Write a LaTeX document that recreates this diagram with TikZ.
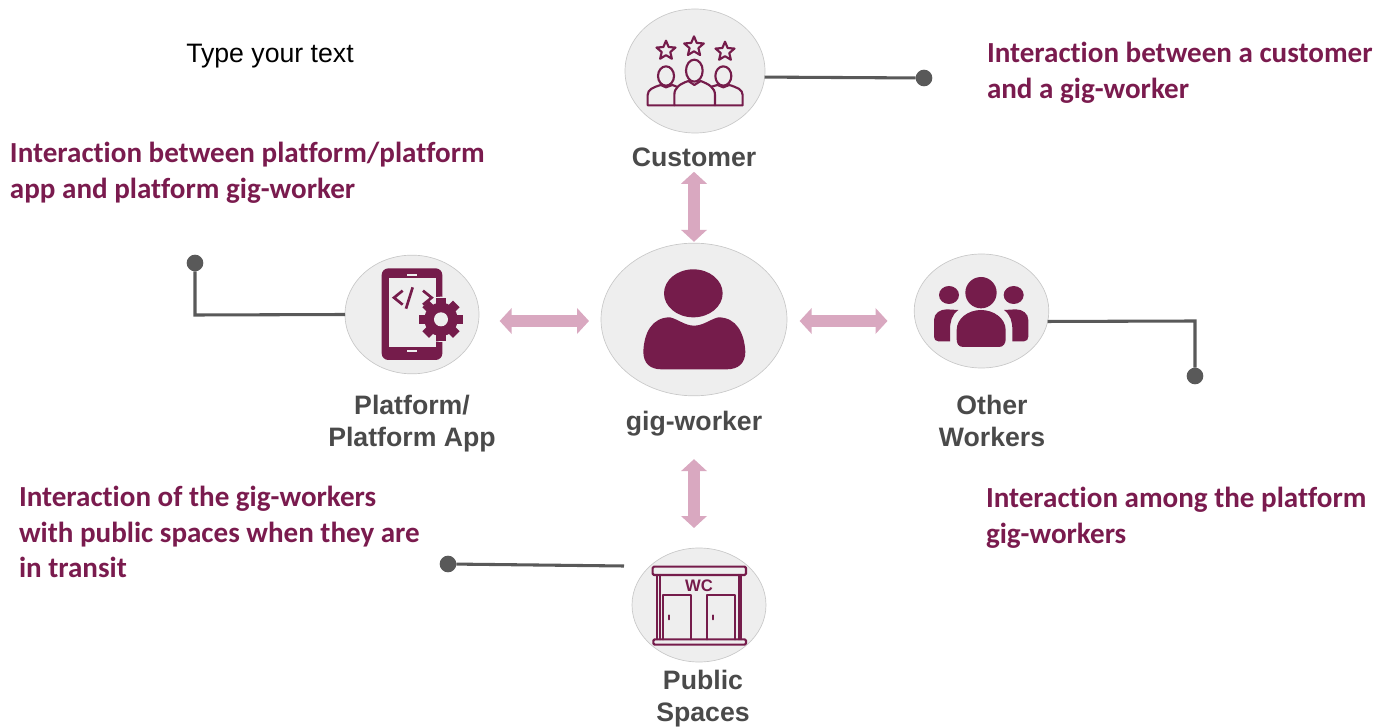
\documentclass[tikz,border=0pt]{standalone}
\usepackage{fontspec}
\setmainfont{Liberation Sans}
\newfontfamily\noteface{Carlito}[Ligatures=NoCommon]
\usetikzlibrary{shapes.geometric,arrows.meta}
\definecolor{plum}{HTML}{751C4B}
\definecolor{notecol}{HTML}{7A1B4E}
\definecolor{disc}{HTML}{EEEEEE}
\definecolor{rimc}{HTML}{C8C8C8}
\definecolor{wire}{HTML}{595959}
\definecolor{pink}{HTML}{D9A8C0}
\definecolor{labelcol}{HTML}{4A4A4A}
\tikzset{
 disk/.style={ellipse,draw=rimc,fill=disc,line width=0.5pt,inner sep=0pt,outer sep=0pt},
 cap label/.style={font=\fontsize{20}{24}\selectfont\bfseries,text=labelcol,align=center,inner sep=0pt,outer sep=0pt},
 note/.style={font=\noteface\fontsize{21.8}{26.5}\selectfont\bfseries,text=notecol,align=left,anchor=north west,inner sep=0pt,outer sep=0pt},
 link/.style={draw=pink,line width=9.5pt,{Triangle[length=9pt,width=19pt]}-{Triangle[length=9pt,width=19pt]}},
 wireline/.style={draw=wire,line width=2.3pt},
 enddot/.style={circle,fill=wire,minimum size=12.5pt,inner sep=0pt,outer sep=0pt},
 iconline/.style={draw=plum,line width=1.6pt,line join=round,line cap=round},
 iconfill/.style={fill=plum},
 icon/.style={x=0.25pt,y=-0.25pt},
}
\newcommand{\iconstar}[3]{\draw[iconline,shift={(#1,#2)}] (-90:#3) -- (-54:#3*0.45) -- (-18:#3) -- (18:#3*0.45) -- (54:#3) -- (90:#3*0.45) -- (126:#3) -- (162:#3*0.45) -- (198:#3) -- (234:#3*0.45) -- cycle;}
\begin{document}
\begin{tikzpicture}[x=0.75pt,y=-0.75pt]
\useasboundingbox (0,0) rectangle (1390,727);
% discs
\node[disk,minimum width=105pt,minimum height=93pt] (customer) at (695,71) {};
\node[disk,minimum width=100.5pt,minimum height=89pt] (platform) at (412,314.5) {};
\node[disk,minimum width=139.5pt,minimum height=114.5pt] (worker) at (694,319.5) {};
\node[disk,minimum width=101pt,minimum height=85.5pt] (other) at (981.5,311) {};
\node[disk,minimum width=100.5pt,minimum height=85.5pt] (public) at (699,605) {};
% captions
\node[cap label] (customercap) at (694,157) {Customer};
\node[cap label] (platformcap) at (412,424) {Platform/\\Platform App};
\node[cap label] (workercap) at (694,424) {gig-worker};
\node[cap label] (othercap) at (992,421) {Other\\Workers};
\node[cap label] (publiccap) at (703,699) {Public\\Spaces};
\node[font=\fontsize{20}{24}\selectfont,text=black,inner sep=0pt] (typetext) at (270,56) {Type your text};
% notes
\node[note] (note1) at (987,42.5) {Interaction between a customer\\and a gig-worker};
\node[note] (note2) at (10,142.5) {Interaction between platform/platform\\app and platform gig-worker};
\node[note] (note3) at (986,487.5) {Interaction among the platform\\gig-workers};
\node[note] (note4) at (19,486.5) {Interaction of the gig-workers\\with public spaces when they are\\in transit};
% links
\coordinate (rowline) at (694,321);
\draw[link,shorten <=4pt,shorten >=1pt] (customercap.south) -- (worker.north);
\draw[link,shorten <=15.5pt,shorten >=9pt] (platform.east |- rowline) -- (worker.west |- rowline);
\draw[link,shorten <=9.5pt,shorten >=20pt] (worker.east |- rowline) -- (other.west |- rowline);
\draw[link,shorten <=17pt,shorten >=15pt] (workercap.south) -- (workercap.south |- public.north);
% leader lines
\node[enddot] (dot1) at (924,78) {};
\node[enddot] (dot2) at (195,263) {};
\node[enddot] (dot3) at (1195,376) {};
\node[enddot] (dot4) at (448,564) {};
\coordinate (bend2) at (195,315);
\coordinate (bend3) at (1195,321);
\coordinate (end4) at (624,566);
\draw[wireline] (customer.-5) -- (dot1);
\draw[wireline,line join=miter] (dot2) -- (bend2) -- (platform.west);
\draw[wireline,line join=miter] (other.-9) -- (bend3) -- (dot3);
\draw[wireline] (dot4) -- (end4);
% customer icon
\begin{scope}[shift={(610,0)},icon]
\iconstar{168}{152}{30}\iconstar{252}{140}{31}\iconstar{345}{155}{30}
\draw[iconline] (168,228) ellipse (24 and 29);
\draw[iconline] (253,212) ellipse (25 and 33);
\draw[iconline] (340,228) ellipse (24 and 29);
\draw[iconline] (193,316) -- (113,316) -- (113,285) .. controls (113,268) and (130,262) .. (152,255) -- (168,262) -- (187,255) -- (200,260);
\draw[iconline] (193,316) -- (193,285) .. controls (193,262) and (210,252) .. (235,243) -- (253,255) -- (272,243) .. controls (295,252) and (315,262) .. (315,285) -- (315,316) -- cycle;
\draw[iconline] (315,316) -- (398,316) -- (398,285) .. controls (398,268) and (380,262) .. (358,255) -- (340,262) -- (322,255) -- (305,260);
\end{scope}
% platform icon
\begin{scope}[shift={(335,250)},icon]
\fill[iconfill,rounded corners=5pt] (140,55) rectangle (322,330);
\fill[disc] (163,85) rectangle (302,292);
\fill[disc] (217,71) rectangle (247,77);
\fill[disc] (217,300) rectangle (247,306);
\begin{scope}[shift={(318,208)}]
\fill[disc] circle (68);
\foreach \a in {0,45,...,315}{\fill[plum,rotate=\a] (-14,-65) rectangle (14,-40);}
\fill[plum] circle (50);
\fill[disc] circle (21);
\end{scope}
\draw[plum,line width=2pt,line join=miter] (203,122) -- (177,143) -- (203,164);
\draw[plum,line width=2pt,line join=miter] (264,122) -- (290,143) -- (264,164);
\draw[plum,line width=2pt] (233,112) -- (213,176);
\end{scope}
% worker icon
\begin{scope}[shift={(590,240)},icon]
\fill[iconfill] (310,160) ellipse (88 and 72);
\fill[iconfill] (215,388) .. controls (180,388) and (160,370) .. (160,335) .. controls (162,280) and (185,232) .. (240,232) .. controls (265,238) and (285,257) .. (312,257) .. controls (340,257) and (360,238) .. (385,232) .. controls (440,232) and (463,280) .. (466,335) .. controls (466,370) and (445,388) .. (410,388) -- cycle;
\end{scope}
% other workers icon
\begin{scope}[shift={(905,250)},icon]
\fill[iconfill] (228,128) circle (47);
\fill[iconfill] (132,135) ellipse (30 and 27);
\fill[iconfill] (326,135) ellipse (30 and 27);
\fill[iconfill] (175,291) .. controls (160,291) and (155,280) .. (155,268) -- (155,240) .. controls (155,205) and (190,180) .. (228,180) .. controls (266,180) and (302,205) .. (302,240) -- (302,268) .. controls (302,280) and (295,291) .. (282,291) -- cycle;
\fill[iconfill] (100,274) .. controls (92,274) and (87,268) .. (87,260) -- (87,210) .. controls (87,190) and (105,178) .. (125,178) -- (160,180) .. controls (140,195) and (135,215) .. (135,240) -- (135,274) -- cycle;
\fill[iconfill] (357,274) .. controls (365,274) and (370,268) .. (370,260) -- (370,210) .. controls (370,190) and (352,178) .. (332,178) -- (297,180) .. controls (317,195) and (322,215) .. (322,240) -- (322,274) -- cycle;
\end{scope}
% public spaces icon
\begin{scope}[shift={(620,540)},icon]
\draw[iconline,rounded corners=1pt] (98,80) rectangle (378,105);
\draw[iconline] (112,105) -- (112,298) (120,105) -- (120,298);
\draw[iconline] (356,105) -- (356,298) (364,105) -- (364,298);
\draw[iconline] (130,298) -- (130,165) -- (213,165) -- (213,298);
\draw[iconline] (260,298) -- (260,165) -- (345,165) -- (345,298);
\draw[iconline] (147,226) -- (147,238) (278,226) -- (278,238);
\draw[iconline,rounded corners=1pt] (100,298) rectangle (378,314);
\node[font=\fontsize{12.5}{14}\selectfont\bfseries,text=plum,inner sep=0pt] (wc) at (237,137) {WC};
\end{scope}
\end{tikzpicture}
\end{document}
